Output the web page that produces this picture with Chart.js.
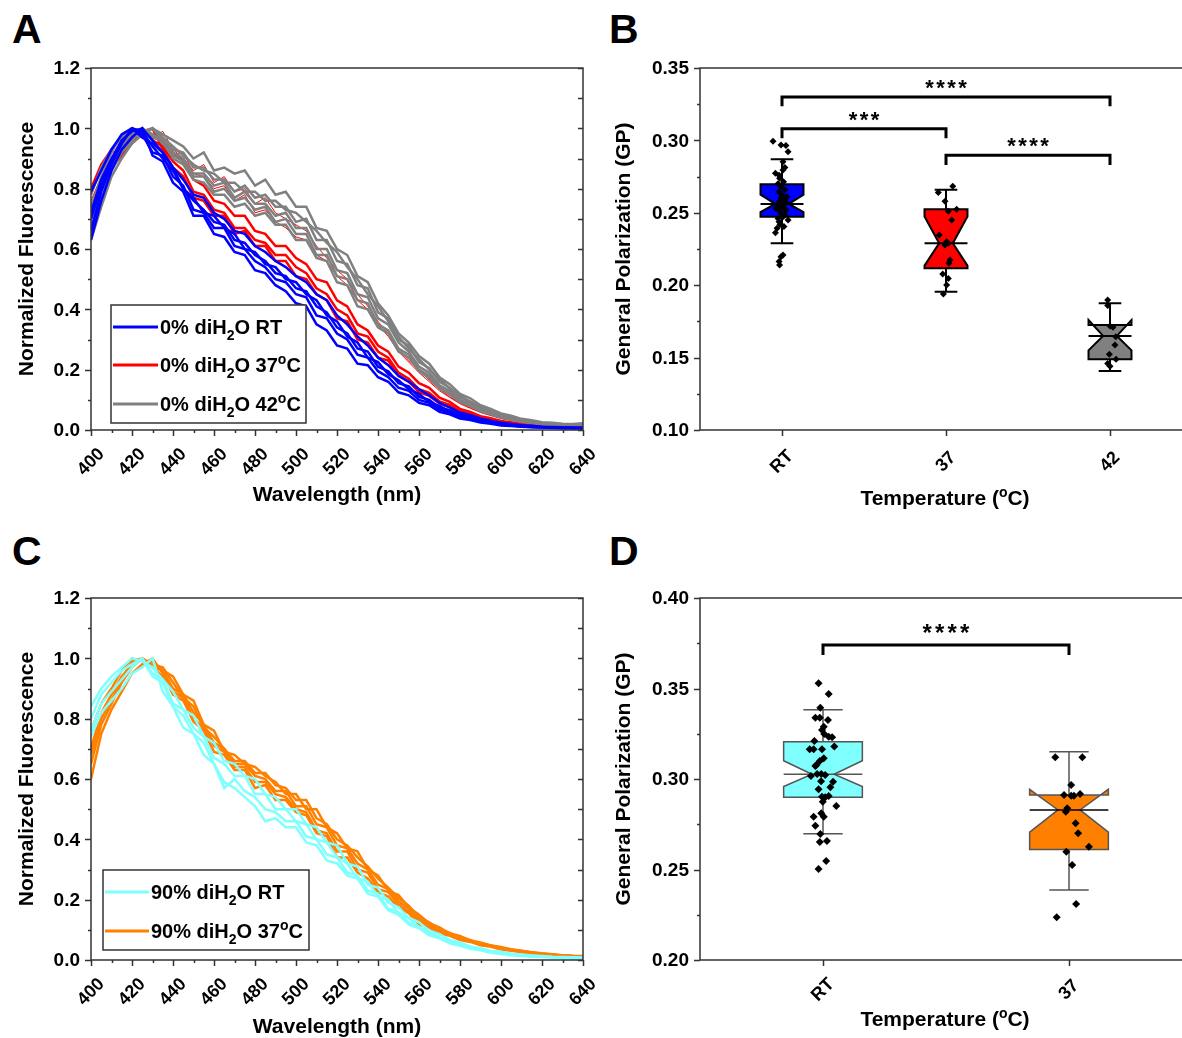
<!DOCTYPE html>
<html>
<head>
<meta charset="utf-8">
<script src="https://cdn.jsdelivr.net/npm/chart.js@4.4.0/dist/chart.umd.min.js"></script>
<style>
html, body { margin: 0; padding: 0; background: #fff; }
body { width: 1182px; height: 1038px; overflow: hidden; position: relative; font-family: "Liberation Sans", Arial, sans-serif; }
canvas { position: absolute; }
.tag { position: absolute; font-weight: bold; font-size: 41px; line-height: 41px; color: #000; }
</style>
</head>
<body>
<div class="tag" style="left:12px;top:9px">A</div>
<div class="tag" style="left:609px;top:9px">B</div>
<div class="tag" style="left:12px;top:531px">C</div>
<div class="tag" style="left:609px;top:531px">D</div>
<canvas id="chartA" width="600" height="490" style="left:0;top:40px"></canvas>
<canvas id="chartB" width="610" height="490" style="left:600px;top:40px"></canvas>
<canvas id="chartC" width="600" height="468" style="left:0;top:570px"></canvas>
<canvas id="chartD" width="610" height="468" style="left:600px;top:570px"></canvas>
<script>
// ---- spectra (panels A and C) ----
var wavelengths = [400,405,410,415,420,425,430,435,440,445,450,455,460,465,470,475,480,485,490,495,500,505,510,515,520,525,530,535,540,545,550,555,560,565,570,575,580,585,590,595,600,605,610,615,620,625,630,635,640];

// 0% diH2O, room temperature
var rt0 = [
  [0.79,0.86,0.93,0.98,1.00,0.97,0.95,0.92,0.87,0.83, 0.78,0.77,0.72,0.70,0.66,0.65,0.61,0.59,0.56,0.54, 0.51,0.49,0.45,0.43,0.38,0.35,0.31,0.28,0.24,0.215, 0.18,0.16,0.135,0.115,0.09,0.075,0.058,0.049,0.038,0.031, 0.024,0.02,0.016,0.014,0.011,0.010,0.009,0.008,0.008],
  [0.72,0.83,0.90,0.96,0.99,1.00,0.96,0.92,0.87,0.80, 0.77,0.72,0.71,0.67,0.65,0.60,0.59,0.55,0.54,0.50, 0.49,0.45,0.43,0.38,0.36,0.31,0.29,0.24,0.225,0.185, 0.165,0.135,0.12,0.092,0.08,0.061,0.053,0.04,0.034,0.025, 0.022,0.016,0.014,0.011,0.010,0.009,0.008,0.007,0.007],
  [0.66,0.79,0.88,0.95,1.00,0.98,0.92,0.91,0.84,0.81, 0.73,0.72,0.67,0.67,0.61,0.60,0.56,0.54,0.50,0.49, 0.45,0.44,0.38,0.37,0.32,0.30,0.25,0.24,0.195,0.175, 0.14,0.13,0.10,0.09,0.068,0.058,0.044,0.037,0.028,0.024, 0.018,0.015,0.012,0.010,0.009,0.008,0.007,0.006,0.006],
  [0.63,0.76,0.86,0.93,0.97,1.00,0.91,0.89,0.82,0.79, 0.71,0.71,0.65,0.64,0.59,0.58,0.53,0.52,0.48,0.46, 0.42,0.41,0.35,0.33,0.28,0.27,0.22,0.215,0.175,0.16, 0.125,0.115,0.09,0.082,0.06,0.052,0.038,0.033,0.025,0.021, 0.015,0.013,0.011,0.009,0.008,0.007,0.006,0.006,0.005],
  [0.70,0.81,0.89,0.95,1.00,0.99,0.94,0.90,0.86,0.80, 0.76,0.73,0.69,0.68,0.63,0.62,0.58,0.56,0.52,0.51, 0.47,0.46,0.41,0.39,0.34,0.32,0.27,0.26,0.21,0.195, 0.155,0.145,0.11,0.1,0.074,0.066,0.05,0.043,0.031,0.027, 0.02,0.017,0.013,0.011,0.009,0.008,0.007,0.007,0.006]
];
// 0% diH2O, 42 oC
var t42_0 = [
  [0.78,0.87,0.93,0.97,1.00,0.99,1.00,0.98,0.96,0.94, 0.90,0.92,0.86,0.87,0.85,0.86,0.81,0.83,0.78,0.79, 0.74,0.74,0.67,0.66,0.60,0.58,0.51,0.49,0.42,0.38, 0.32,0.29,0.245,0.22,0.175,0.152,0.12,0.105,0.082,0.07, 0.055,0.047,0.037,0.032,0.026,0.024,0.021,0.020,0.022],
  [0.74,0.84,0.92,0.98,1.00,0.97,0.98,0.96,0.93,0.92, 0.87,0.87,0.83,0.83,0.79,0.81,0.77,0.78,0.74,0.74, 0.69,0.70,0.63,0.63,0.56,0.55,0.48,0.47,0.39,0.37, 0.30,0.28,0.225,0.205,0.16,0.14,0.108,0.095,0.073,0.062, 0.049,0.041,0.033,0.028,0.023,0.02,0.018,0.017,0.018],
  [0.70,0.80,0.89,0.95,0.98,1.00,0.97,0.96,0.92,0.90, 0.85,0.85,0.81,0.82,0.77,0.79,0.75,0.75,0.71,0.72, 0.67,0.67,0.60,0.60,0.53,0.52,0.45,0.44,0.37,0.35, 0.29,0.26,0.21,0.19,0.148,0.13,0.1,0.088,0.067,0.057, 0.045,0.037,0.03,0.025,0.021,0.018,0.016,0.015,0.016],
  [0.65,0.76,0.86,0.92,0.96,1.00,0.98,0.95,0.91,0.89, 0.84,0.84,0.79,0.80,0.76,0.77,0.73,0.74,0.69,0.70, 0.65,0.65,0.58,0.58,0.51,0.50,0.43,0.42,0.35,0.33, 0.27,0.25,0.2,0.18,0.14,0.122,0.095,0.082,0.063,0.054, 0.042,0.035,0.028,0.024,0.019,0.017,0.015,0.014,0.014],
  [0.63,0.74,0.84,0.90,0.95,0.98,1.00,0.96,0.90,0.88, 0.83,0.82,0.78,0.78,0.74,0.75,0.71,0.72,0.68,0.68, 0.63,0.63,0.57,0.56,0.49,0.48,0.41,0.40,0.34,0.32, 0.26,0.24,0.195,0.172,0.137,0.118,0.092,0.079,0.061,0.052, 0.04,0.034,0.027,0.023,0.019,0.016,0.014,0.013,0.013],
  [0.68,0.79,0.88,0.94,0.97,0.99,1.00,0.97,0.94,0.91, 0.88,0.86,0.85,0.82,0.82,0.79,0.79,0.76,0.76,0.73, 0.72,0.69,0.66,0.62,0.59,0.54,0.50,0.45,0.41,0.36, 0.31,0.27,0.235,0.2,0.17,0.138,0.115,0.093,0.078,0.06, 0.051,0.04,0.034,0.027,0.023,0.019,0.018,0.016,0.017]
];
// 0% diH2O, 37 oC
var t37_0 = [
  [0.80,0.88,0.93,0.97,1.00,0.99,0.97,0.96,0.92,0.89, 0.83,0.81,0.76,0.75,0.71,0.71,0.66,0.65,0.61,0.61, 0.57,0.55,0.50,0.49,0.43,0.41,0.35,0.33,0.28,0.26, 0.21,0.19,0.155,0.14,0.107,0.093,0.07,0.06,0.046,0.039, 0.03,0.026,0.02,0.017,0.014,0.012,0.011,0.010,0.009],
  [0.72,0.83,0.89,0.94,0.98,1.00,0.96,0.94,0.89,0.86, 0.79,0.78,0.73,0.72,0.67,0.67,0.63,0.62,0.58,0.58, 0.54,0.52,0.47,0.45,0.40,0.38,0.32,0.31,0.26,0.24, 0.19,0.17,0.135,0.123,0.095,0.083,0.062,0.054,0.041,0.035, 0.027,0.022,0.018,0.015,0.012,0.011,0.010,0.009,0.008],
  [0.70,0.80,0.87,0.91,0.95,0.98,1.00,0.93,0.87,0.84, 0.77,0.76,0.71,0.71,0.65,0.66,0.61,0.61,0.56,0.56, 0.51,0.50,0.45,0.43,0.37,0.36,0.30,0.29,0.24,0.23, 0.18,0.16,0.125,0.113,0.088,0.075,0.058,0.05,0.037,0.031, 0.024,0.019,0.016,0.013,0.011,0.010,0.009,0.008,0.007],
  [0.76,0.84,0.90,0.92,0.95,1.00,0.97,0.99,0.93,0.90, 0.86,0.88,0.82,0.84,0.79,0.80,0.75,0.77,0.72,0.70, 0.68,0.66,0.61,0.57,0.53,0.50,0.45,0.41,0.36,0.32, 0.27,0.23,0.20,0.165,0.135,0.11,0.09,0.074,0.06,0.049, 0.04,0.033,0.027,0.022,0.018,0.016,0.014,0.012,0.011],
  [0.78,0.86,0.92,0.93,0.96,0.98,1.00,0.96,0.91,0.92, 0.85,0.84,0.80,0.81,0.76,0.78,0.72,0.73,0.69,0.67, 0.64,0.63,0.58,0.56,0.51,0.48,0.43,0.40,0.35,0.31, 0.26,0.225,0.19,0.16,0.13,0.108,0.087,0.072,0.058,0.048, 0.038,0.032,0.026,0.021,0.017,0.015,0.013,0.012,0.010]
];
var t37_0Widths = [2.5, 2.5, 2.5, 1, 1];

// 90% diH2O, room temperature
var rt90 = [
  [0.84,0.90,0.94,0.97,1.00,0.99,0.97,0.93,0.89,0.83, 0.81,0.74,0.72,0.66,0.65,0.61,0.60,0.55,0.54,0.50, 0.50,0.45,0.44,0.39,0.38,0.32,0.31,0.25,0.24,0.19, 0.175,0.14,0.125,0.097,0.086,0.066,0.058,0.045,0.039,0.03, 0.027,0.021,0.018,0.015,0.013,0.011,0.010,0.009,0.008],
  [0.80,0.88,0.92,0.96,0.98,1.00,0.95,0.93,0.85,0.83, 0.77,0.74,0.67,0.65,0.61,0.61,0.55,0.55,0.50,0.50, 0.46,0.45,0.40,0.39,0.34,0.32,0.27,0.26,0.21,0.20, 0.155,0.14,0.108,0.096,0.074,0.065,0.05,0.044,0.034,0.03, 0.023,0.02,0.016,0.014,0.012,0.010,0.009,0.008,0.007],
  [0.76,0.85,0.89,0.93,0.97,1.00,0.94,0.92,0.84,0.81, 0.75,0.72,0.65,0.57,0.60,0.56,0.54,0.50,0.49,0.46, 0.46,0.41,0.40,0.35,0.34,0.29,0.28,0.23,0.22,0.17, 0.158,0.124,0.11,0.086,0.075,0.058,0.05,0.039,0.034,0.026, 0.022,0.018,0.015,0.013,0.011,0.009,0.008,0.007,0.006],
  [0.74,0.82,0.86,0.90,0.95,0.97,1.00,0.89,0.84,0.77, 0.75,0.68,0.65,0.59,0.57,0.54,0.51,0.46,0.47,0.44, 0.44,0.39,0.38,0.33,0.32,0.28,0.27,0.22,0.21,0.165, 0.15,0.118,0.105,0.082,0.072,0.055,0.047,0.037,0.032,0.024, 0.02,0.016,0.013,0.011,0.010,0.008,0.007,0.006,0.005]
];
// 90% diH2O, 37 oC
var t37_90 = [
  [0.76,0.85,0.90,0.96,1.00,0.99,0.99,0.96,0.94,0.88, 0.86,0.78,0.76,0.69,0.68,0.65,0.64,0.61,0.59,0.55, 0.55,0.50,0.50,0.44,0.42,0.37,0.36,0.30,0.28,0.23, 0.215,0.175,0.15,0.122,0.108,0.088,0.08,0.065,0.058,0.048, 0.043,0.035,0.031,0.026,0.022,0.019,0.016,0.014,0.013],
  [0.70,0.82,0.88,0.94,0.98,1.00,0.97,0.96,0.90,0.88, 0.82,0.78,0.72,0.70,0.65,0.65,0.61,0.60,0.56,0.56, 0.51,0.51,0.45,0.44,0.38,0.37,0.32,0.30,0.25,0.235, 0.195,0.17,0.132,0.12,0.098,0.088,0.072,0.065,0.053,0.048, 0.039,0.035,0.029,0.025,0.021,0.018,0.015,0.013,0.012],
  [0.65,0.78,0.85,0.92,0.97,1.00,0.97,0.94,0.89,0.87, 0.80,0.77,0.71,0.69,0.64,0.64,0.59,0.59,0.55,0.54, 0.50,0.49,0.43,0.42,0.36,0.36,0.30,0.29,0.235,0.225, 0.185,0.16,0.125,0.115,0.093,0.084,0.07,0.062,0.051,0.046, 0.037,0.033,0.027,0.023,0.02,0.017,0.014,0.012,0.011],
  [0.60,0.75,0.83,0.89,0.95,0.98,1.00,0.95,0.88,0.86, 0.79,0.76,0.69,0.68,0.63,0.63,0.57,0.58,0.53,0.53, 0.49,0.48,0.42,0.41,0.34,0.34,0.29,0.27,0.225,0.21, 0.175,0.155,0.118,0.108,0.088,0.08,0.066,0.06,0.049,0.044, 0.035,0.031,0.026,0.022,0.019,0.016,0.014,0.012,0.010],
  [0.68,0.80,0.86,0.93,0.99,1.00,0.98,0.97,0.92,0.87, 0.84,0.77,0.74,0.70,0.66,0.66,0.62,0.62,0.58,0.57, 0.53,0.53,0.47,0.45,0.40,0.38,0.34,0.31,0.27,0.24, 0.205,0.18,0.14,0.125,0.102,0.09,0.076,0.066,0.055,0.048, 0.041,0.035,0.03,0.025,0.021,0.018,0.015,0.013,0.012]
];

var specYTicks = [0, 0.2, 0.4, 0.6, 0.8, 1.0, 1.2];
var specYLabels = ['0.0', '0.2', '0.4', '0.6', '0.8', '1.0', '1.2'];
var specYMinor = [0.1, 0.3, 0.5, 0.7, 0.9, 1.1];
var specXTicks = [400, 420, 440, 460, 480, 500, 520, 540, 560, 580, 600, 620, 640];
var specXLabels = ['400', '420', '440', '460', '480', '500', '520', '540', '560', '580', '600', '620', '640'];
var specXMinor = [410, 430, 450, 470, 490, 510, 530, 550, 570, 590, 610, 630];

// ---- general polarization (panels B and D) ----
var catsB = ['RT', '37', '42'];
var gpRT_B = [0.2994,0.2968,0.2965,0.2922,0.2853,0.2812,0.2796,0.2773,0.2760,0.2739,0.2715,0.2700,0.2681,0.2660,0.2646,0.2624,0.2610,0.2600,0.2589,0.2578,0.2570,0.2555,0.2548,0.2539,0.2530,0.2520,0.2510,0.2497,0.2485,0.2473,0.2460,0.2450,0.2439,0.2420,0.2405,0.2393,0.2363,0.2209,0.2197,0.2163,0.2140];
var jitRT_B = [-0.055,-0.006,0.024,0.037,0.006,0.018,0.006,-0.04,-0.018,-0.015,0.009,-0.024,-0.006,0.018,-0.018,0,0.03,-0.006,0.015,-0.015,0.024,-0.024,0.006,0,-0.037,0.024,-0.012,-0.006,0.018,0.006,-0.024,0.037,-0.018,-0.012,0.012,-0.03,-0.04,0.006,-0.006,-0.018,-0.015];
var gp37_B = [0.2683,0.2640,0.2580,0.2524,0.2510,0.2450,0.2347,0.2300,0.2290,0.2278,0.2174,0.2151,0.2077,0.2047,0.2001,0.1939];
var jit37_B = [0.041,-0.047,-0.006,0.065,0.014,0.035,-0.041,0.004,0.014,-0.006,0.024,0.018,-0.02,0.014,0.004,-0.016];
var gp42_B = [0.1898,0.1860,0.1718,0.1710,0.1644,0.1587,0.1523,0.1488,0.1460,0.1440];
var jit42_B = [-0.014,-0.014,0,0.018,0.035,0.03,-0.004,0.037,-0.014,0];
var q1B = [0.2473, 0.2117, 0.1488];
var q3B = [0.2697, 0.2524, 0.1725];
var medB = [0.2561, 0.2290, 0.1650];
var notchLoB = [0.2505, 0.2135, 0.1550];
var notchHiB = [0.2625, 0.2475, 0.1760];
var whiskLoB = [0.2290, 0.1955, 0.1407];
var whiskHiB = [0.2870, 0.2660, 0.1875];
var bracketFromB = [1, 1, 2];
var bracketToB = [3, 2, 3];
var bracketTopB = [0.3300, 0.3080, 0.2897];
var bracketLegB = [0.3236, 0.3015, 0.2830];
var bracketTextB = ['****', '***', '****'];
var gpTicksB = [0.10, 0.15, 0.20, 0.25, 0.30, 0.35];
var gpLabelsB = ['0.10', '0.15', '0.20', '0.25', '0.30', '0.35'];
var gpMinorB = [0.125, 0.175, 0.225, 0.275, 0.325];

var catsD = ['RT', '37'];
var gpRT_D = [0.3529,0.3470,0.3394,0.3339,0.3339,0.3326,0.3289,0.3271,0.3249,0.3234,0.3230,0.3210,0.3164,0.3164,0.3164,0.3179,0.3114,0.3100,0.3077,0.3072,0.3017,0.3028,0.3028,0.3022,0.2987,0.2954,0.2943,0.2985,0.2902,0.2899,0.2906,0.2875,0.2851,0.2811,0.2792,0.2792,0.2742,0.2696,0.2652,0.2657,0.2547,0.2503];
var jitRT_D = [-0.018,0.023,-0.011,-0.031,-0.013,0.02,0.003,-0.004,0.005,0.023,0.037,-0.035,-0.054,-0.038,-0.004,0.046,0.003,-0.013,-0.027,-0.031,-0.049,-0.024,-0.007,0.009,-0.008,0.03,-0.018,0.041,-0.004,0.009,0.023,-0.001,0.054,-0.007,0.003,-0.038,-0.031,-0.011,-0.013,0.016,0.013,-0.018];
var gp37_D = [0.3120,0.3120,0.2967,0.2912,0.2908,0.2908,0.2917,0.2838,0.2819,0.2755,0.2700,0.2626,0.2598,0.2525,0.2309,0.2236];
var jit37_D = [-0.056,0.054,0.009,-0.02,0.009,0.02,0.045,-0.007,-0.013,0.027,0.037,0.081,-0.011,0.013,0.029,-0.05];
var q1D = [0.2899, 0.2611];
var q3D = [0.3206, 0.2912];
var medD = [0.3026, 0.2829];
var notchLoD = [0.2958, 0.2706];
var notchHiD = [0.3101, 0.2943];
var whiskLoD = [0.2698, 0.2387];
var whiskHiD = [0.3383, 0.3151];
var bracketFromD = [1];
var bracketToD = [2];
var bracketTopD = [0.3740];
var bracketLegD = [0.3685];
var bracketTextD = ['****'];
var gpTicksD = [0.20, 0.25, 0.30, 0.35, 0.40];
var gpLabelsD = ['0.20', '0.25', '0.30', '0.35', '0.40'];
var gpMinorD = [0.225, 0.275, 0.325, 0.375];

var FONT = '"Liberation Sans", Arial, sans-serif';
var AXIS = '#333333';

// text with sub/superscript parts: [text, 0 normal | 1 sub | 2 sup]
function drawRich(ctx, parts, x, y, size, align) {
    var small = Math.round(size * 0.68);
    var w = 0;
    parts.forEach(function(p) {
        ctx.font = 'bold ' + (p[1] ? small : size) + 'px ' + FONT;
        w += ctx.measureText(p[0]).width;
    });
    var cx = align === 'center' ? x - w / 2 : (align === 'right' ? x - w : x);
    ctx.textAlign = 'left';
    ctx.textBaseline = 'alphabetic';
    parts.forEach(function(p) {
        ctx.font = 'bold ' + (p[1] ? small : size) + 'px ' + FONT;
        var dy = p[1] === 1 ? size * 0.28 : (p[1] === 2 ? -size * 0.4 : 0);
        ctx.fillText(p[0], cx, y + dy);
        cx += ctx.measureText(p[0]).width;
    });
}

function drawVertical(ctx, text, x, y, size) {
    ctx.save();
    ctx.translate(x, y);
    ctx.rotate(-Math.PI / 2);
    drawRich(ctx, [[text, 0]], 0, size * 0.36, size, 'center');
    ctx.restore();
}

function spectraChart(id, groups, legend) {
    var datasets = [];
    groups.forEach(function(g) {
        g.curves.forEach(function(c, i) {
            datasets.push({
                data: wavelengths.map(function(w, k) { return {x: w, y: c[k]}; }),
                borderColor: g.color,
                borderWidth: g.widths ? g.widths[i] : 2.5,
                pointRadius: 0,
                tension: 0,
                fill: false
            });
        });
    });
    var canvas = document.getElementById(id);
    new Chart(canvas, {
        type: 'line',
        data: {datasets: datasets},
        options: {
            responsive: false,
            animation: false,
            events: [],
            layout: {padding: {left: 91, right: 17, top: 28, bottom: canvas.height - 390}},
            plugins: {legend: {display: false}, tooltip: {enabled: false}},
            scales: {
                x: {type: 'linear', min: 400, max: 640, display: false},
                y: {type: 'linear', min: 0, max: 1.2, display: false}
            }
        },
        plugins: [{
            id: 'spectraFrame',
            afterDatasetsDraw: function(chart) {
                var ctx = chart.ctx, a = chart.chartArea, xs = chart.scales.x, ys = chart.scales.y;
                ctx.save();
                ctx.strokeStyle = AXIS;
                ctx.lineWidth = 1.5;
                ctx.beginPath();
                ctx.rect(a.left, a.top, a.right - a.left, a.bottom - a.top);
                specYTicks.concat(specYMinor).forEach(function(v, i) {
                    var p = Math.round(ys.getPixelForValue(v)) + 0.5;
                    var len = i < specYTicks.length ? 6 : 3;
                    ctx.moveTo(a.left - len, p); ctx.lineTo(a.left, p);
                    ctx.moveTo(a.right - 5, p); ctx.lineTo(a.right, p);
                });
                specXTicks.concat(specXMinor).forEach(function(v, i) {
                    var p = Math.round(xs.getPixelForValue(v)) + 0.5;
                    var len = i < specXTicks.length ? 6 : 3;
                    ctx.moveTo(p, a.bottom); ctx.lineTo(p, a.bottom + len);
                });
                ctx.stroke();

                ctx.fillStyle = '#000';
                ctx.font = 'bold 19px ' + FONT;
                ctx.textAlign = 'right';
                ctx.textBaseline = 'middle';
                specYTicks.forEach(function(v, i) {
                    ctx.fillText(specYLabels[i], a.left - 11, ys.getPixelForValue(v) + 1);
                });
                ctx.textAlign = 'center';
                ctx.font = 'bold 18px ' + FONT;
                specXTicks.forEach(function(v, i) {
                    ctx.save();
                    ctx.translate(xs.getPixelForValue(v), a.bottom + 32);
                    ctx.rotate(-Math.PI / 4);
                    ctx.fillText(specXLabels[i], 0, 0);
                    ctx.restore();
                });

                drawVertical(ctx, 'Normalized Fluorescence', 25, (a.top + a.bottom) / 2, 21);
                drawRich(ctx, [['Wavelength (nm)', 0]], (a.left + a.right) / 2, legend.xTitleY + 7, 21, 'center');

                // legend
                var L = legend;
                ctx.fillStyle = '#fff';
                ctx.fillRect(L.x, L.y, L.w, L.h);
                ctx.strokeStyle = AXIS;
                ctx.lineWidth = 1.5;
                ctx.strokeRect(L.x, L.y, L.w, L.h);
                L.items.forEach(function(it, i) {
                    var yy = L.rows[i];
                    ctx.strokeStyle = it.color;
                    ctx.lineWidth = 3;
                    ctx.beginPath();
                    ctx.moveTo(L.x + 2, yy);
                    ctx.lineTo(L.x + L.lineLen, yy);
                    ctx.stroke();
                    ctx.fillStyle = '#000';
                    drawRich(ctx, it.parts, L.x + L.lineLen + 2, yy + 7, 20, 'left');
                });
                ctx.restore();
            }
        }]
    });
}

function boxChart(id, cfg) {
    var canvas = document.getElementById(id);
    var datasets = cfg.points.map(function(vals, i) {
        return {
            data: vals.map(function(v, k) { return {x: i + 1 + cfg.jitter[i][k], y: v}; }),
            pointStyle: 'rectRot',
            pointRadius: cfg.pointR,
            backgroundColor: '#000',
            borderColor: '#000',
            borderWidth: 0
        };
    });
    new Chart(canvas, {
        type: 'scatter',
        data: {datasets: datasets},
        options: {
            responsive: false,
            animation: false,
            events: [],
            layout: {padding: {left: 100, right: 18, top: 28, bottom: canvas.height - cfg.plotBottom}},
            plugins: {legend: {display: false}, tooltip: {enabled: false}},
            scales: {
                x: {type: 'linear', min: 0.5, max: cfg.cats.length + 0.5, display: false},
                y: {type: 'linear', min: cfg.yMin, max: cfg.yMax, display: false}
            }
        },
        plugins: [{
            id: 'notchedBoxes',
            beforeDatasetsDraw: function(chart) {
                var ctx = chart.ctx, xs = chart.scales.x, ys = chart.scales.y;
                function X(v) { return xs.getPixelForValue(v); }
                function Y(v) { return ys.getPixelForValue(v); }
                ctx.save();
                cfg.q1.forEach(function(_, i) {
                    var c = i + 1;
                    var xl = X(c - cfg.half), xr = X(c + cfg.half);
                    var nl = X(c - cfg.half * cfg.notch), nr = X(c + cfg.half * cfg.notch);
                    ctx.strokeStyle = cfg.line;
                    ctx.lineWidth = cfg.lw;
                    ctx.beginPath();
                    ctx.moveTo(X(c), Y(cfg.q3[i])); ctx.lineTo(X(c), Y(cfg.whHi[i]));
                    ctx.moveTo(X(c - cfg.cap), Y(cfg.whHi[i])); ctx.lineTo(X(c + cfg.cap), Y(cfg.whHi[i]));
                    ctx.moveTo(X(c), Y(cfg.q1[i])); ctx.lineTo(X(c), Y(cfg.whLo[i]));
                    ctx.moveTo(X(c - cfg.cap), Y(cfg.whLo[i])); ctx.lineTo(X(c + cfg.cap), Y(cfg.whLo[i]));
                    ctx.stroke();

                    // notched box; when the notch runs past Q3 the outline leaves small "ears"
                    ctx.beginPath();
                    ctx.moveTo(xl, Y(cfg.nHi[i]));
                    ctx.lineTo(nl, Y(cfg.med[i]));
                    ctx.lineTo(xl, Y(cfg.nLo[i]));
                    ctx.lineTo(xl, Y(cfg.q1[i]));
                    ctx.lineTo(xr, Y(cfg.q1[i]));
                    ctx.lineTo(xr, Y(cfg.nLo[i]));
                    ctx.lineTo(nr, Y(cfg.med[i]));
                    ctx.lineTo(xr, Y(cfg.nHi[i]));
                    ctx.lineTo(xr, Y(cfg.q3[i]));
                    ctx.lineTo(xl, Y(cfg.q3[i]));
                    ctx.closePath();
                    ctx.fillStyle = cfg.colors[i];
                    ctx.fill();
                    ctx.stroke();

                    ctx.beginPath();
                    ctx.strokeStyle = cfg.medColor[i];
                    ctx.moveTo(xl, Y(cfg.med[i]));
                    ctx.lineTo(xr, Y(cfg.med[i]));
                    ctx.stroke();
                });
                ctx.restore();
            },
            afterDatasetsDraw: function(chart) {
                var ctx = chart.ctx, a = chart.chartArea, xs = chart.scales.x, ys = chart.scales.y;
                ctx.save();
                ctx.strokeStyle = AXIS;
                ctx.lineWidth = 1.5;
                ctx.beginPath();
                ctx.rect(a.left, a.top, a.right - a.left, a.bottom - a.top);
                cfg.ticks.concat(cfg.minor).forEach(function(v, i) {
                    var p = Math.round(ys.getPixelForValue(v)) + 0.5;
                    var len = i < cfg.ticks.length ? 6 : 3;
                    ctx.moveTo(a.left - len, p); ctx.lineTo(a.left, p);
                });
                cfg.cats.forEach(function(_, i) {
                    var p = Math.round(xs.getPixelForValue(i + 1)) + 0.5;
                    ctx.moveTo(p, a.bottom); ctx.lineTo(p, a.bottom + 6);
                });
                ctx.stroke();

                ctx.fillStyle = '#000';
                ctx.font = 'bold 19px ' + FONT;
                ctx.textAlign = 'right';
                ctx.textBaseline = 'middle';
                cfg.ticks.forEach(function(v, i) {
                    ctx.fillText(cfg.labels[i], a.left - 11, ys.getPixelForValue(v) + 1);
                });
                ctx.textAlign = 'center';
                ctx.font = 'bold 18px ' + FONT;
                cfg.cats.forEach(function(t, i) {
                    ctx.save();
                    ctx.translate(xs.getPixelForValue(i + 1), a.bottom + cfg.catLabelDy);
                    ctx.rotate(-Math.PI / 4);
                    ctx.fillText(t, 0, 0);
                    ctx.restore();
                });

                // significance brackets
                ctx.strokeStyle = '#000';
                ctx.lineWidth = 3;
                cfg.bFrom.forEach(function(f, i) {
                    var x1 = xs.getPixelForValue(f), x2 = xs.getPixelForValue(cfg.bTo[i]);
                    var yt = ys.getPixelForValue(cfg.bTop[i]), yl = ys.getPixelForValue(cfg.bLeg[i]);
                    ctx.beginPath();
                    ctx.moveTo(x1, yl); ctx.lineTo(x1, yt); ctx.lineTo(x2, yt); ctx.lineTo(x2, yl);
                    ctx.stroke();
                    var txt = cfg.bText[i];
                    var mid = (x1 + x2) / 2;
                    ctx.font = 'bold ' + cfg.starSize + 'px ' + FONT;
                    ctx.textAlign = 'center';
                    ctx.textBaseline = 'alphabetic';
                    for (var k = 0; k < txt.length; k++) {
                        var sx = mid + (k - (txt.length - 1) / 2) * cfg.starGap;
                        ctx.fillText('*', sx, yt - cfg.starDy + cfg.starSize * 0.55);
                    }
                });

                drawVertical(ctx, 'General Polarization (GP)', 22, (a.top + a.bottom) / 2, 21);
                drawRich(ctx, [['Temperature (', 0], ['o', 2], ['C)', 0]], 345, cfg.xTitleY + 7, 21, 'center');
                ctx.restore();
            }
        }]
    });
}

spectraChart('chartA', [
    {color: '#0000FF', curves: rt0},
    {color: '#808080', curves: t42_0},
    {color: '#FF0000', curves: t37_0, widths: t37_0Widths}
], {
    x: 111, y: 265, w: 195, h: 118, lineLen: 47, rows: [287, 325, 364], xTitleY: 454,
    items: [
        {color: '#0000FF', parts: [['0% diH', 0], ['2', 1], ['O RT', 0]]},
        {color: '#FF0000', parts: [['0% diH', 0], ['2', 1], ['O 37', 0], ['o', 2], ['C', 0]]},
        {color: '#808080', parts: [['0% diH', 0], ['2', 1], ['O 42', 0], ['o', 2], ['C', 0]]}
    ]
});

spectraChart('chartC', [
    {color: '#80FFFF', curves: rt90},
    {color: '#FF8000', curves: t37_90}
], {
    x: 103, y: 300, w: 206, h: 80, lineLen: 46, rows: [322, 361], xTitleY: 456,
    items: [
        {color: '#80FFFF', parts: [['90% diH', 0], ['2', 1], ['O RT', 0]]},
        {color: '#FF8000', parts: [['90% diH', 0], ['2', 1], ['O 37', 0], ['o', 2], ['C', 0]]}
    ]
});

boxChart('chartB', {
    cats: catsB, points: [gpRT_B, gp37_B, gp42_B], jitter: [jitRT_B, jit37_B, jit42_B],
    q1: q1B, q3: q3B, med: medB, nLo: notchLoB, nHi: notchHiB, whLo: whiskLoB, whHi: whiskHiB,
    colors: ['#0000FF', '#FF0000', '#808080'], medColor: ['#000', '#000', '#000'],
    line: '#000', lw: 2, half: 0.131, notch: 0.32, cap: 0.069, pointR: 3.5,
    yMin: 0.10, yMax: 0.35, ticks: gpTicksB, labels: gpLabelsB, minor: gpMinorB,
    plotBottom: 390, catLabelDy: 32, xTitleY: 458,
    bFrom: bracketFromB, bTo: bracketToB, bTop: bracketTopB, bLeg: bracketLegB, bText: bracketTextB,
    starSize: 22, starGap: 11, starDy: 14
});

boxChart('chartD', {
    cats: catsD, points: [gpRT_D, gp37_D], jitter: [jitRT_D, jit37_D],
    q1: q1D, q3: q3D, med: medD, nLo: notchLoD, nHi: notchHiD, whLo: whiskLoD, whHi: whiskHiD,
    colors: ['#80FFFF', '#FF8000'], medColor: ['#555', '#000'],
    line: '#555555', lw: 1.5, half: 0.16, notch: 0.28, cap: 0.08, pointR: 4,
    yMin: 0.20, yMax: 0.40, ticks: gpTicksD, labels: gpLabelsD, minor: gpMinorD,
    plotBottom: 390, catLabelDy: 30, xTitleY: 449,
    bFrom: bracketFromD, bTo: bracketToD, bTop: bracketTopD, bLeg: bracketLegD, bText: bracketTextD,
    starSize: 24, starGap: 12.5, starDy: 17
});
</script>
</body>
</html>
